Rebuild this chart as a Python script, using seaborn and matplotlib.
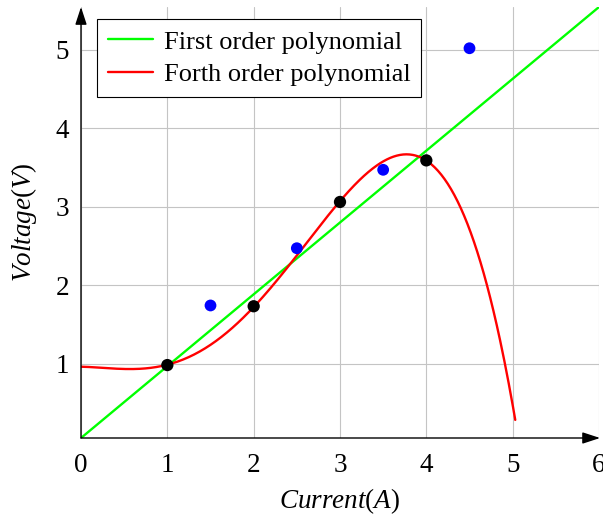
import numpy as np
import pandas as pd
import matplotlib
matplotlib.use("Agg")
import matplotlib.pyplot as plt
import seaborn as sns

# Measured points
meas_x = [1, 2, 3, 4]
meas_y = [0.98, 1.73, 3.06, 3.59]
# Midpoint readings
mid_x = [1.5, 2.5, 3.5, 4.5]
mid_y = [1.74, 2.47, 3.47, 5.02]
# Points along the fourth order curve
quart_x = [0.0, 0.5, 1.0, 2.0, 3.0, 3.75, 4.0, 5.03]
quart_y = [0.96, 0.93, 0.98, 1.73, 3.06, 3.67, 3.59, 0.28]

x_ticks = [0, 1, 2, 3, 4, 5, 6]
y_ticks = [1, 2, 3, 4, 5]

sns.set_style("white")
plt.rcParams["font.family"] = ["Liberation Serif", "DejaVu Serif"]
plt.rcParams["mathtext.fontset"] = "custom"
plt.rcParams["mathtext.rm"] = "Liberation Serif"
plt.rcParams["mathtext.it"] = "Liberation Serif:italic"
plt.rcParams["font.size"] = 19.5
plt.rcParams["text.color"] = "black"
plt.rcParams["axes.labelcolor"] = "black"
plt.rcParams["xtick.labelcolor"] = "black"
plt.rcParams["ytick.labelcolor"] = "black"

fig = plt.figure(figsize=(6.03, 5.18), dpi=100)
ax = fig.add_axes([81 / 603, 1 - 438 / 518, 518 / 603, 431 / 518])

# First order fit of the measured points
lin = np.polyfit(meas_x, meas_y, 1)
xl = np.linspace(0, 6, 50)
lin_df = pd.DataFrame({"x": xl, "y": np.polyval(lin, xl)})

# Fourth order curve
quart = np.polyfit(quart_x, quart_y, 4)
xq = np.linspace(0, 5.03, 400)
quart_df = pd.DataFrame({"x": xq, "y": np.polyval(quart, xq)})

sns.lineplot(data=lin_df, x="x", y="y", ax=ax, color="#00ff00", lw=1.7,
             label="First order polynomial", zorder=3)
sns.lineplot(data=quart_df, x="x", y="y", ax=ax, color="#ff0000", lw=1.7,
             label="Forth order polynomial", zorder=3)
sns.scatterplot(x=mid_x, y=mid_y, ax=ax, color="#0000ff", s=72,
                edgecolor="none", zorder=4)
sns.scatterplot(x=meas_x, y=meas_y, ax=ax, color="black", s=78,
                edgecolor="none", zorder=5)

ax.set_xlim(0, 6)
ax.set_ylim(np.polyval(lin, 0), np.polyval(lin, 6))
ax.set_xticks(x_ticks)
ax.set_yticks(y_ticks)
ax.set_xticklabels([str(t) for t in x_ticks])
ax.set_yticklabels([str(t) for t in y_ticks])
ax.grid(True, color="#c4c4c4", lw=0.8)
ax.set_axisbelow(True)
ax.tick_params(direction="inout", length=7, width=0.7, color="#555555",
               labelsize=19.5, pad=5)
ax.tick_params(axis="x", pad=7)

for s in ax.spines.values():
    s.set_visible(False)
arrow = dict(arrowstyle="-|>,head_length=0.55,head_width=0.18", lw=1.0,
             color="black", shrinkA=0, shrinkB=0)
ax.annotate("", xy=(1.002, 0), xytext=(0, 0), xycoords="axes fraction",
            textcoords="axes fraction", arrowprops=arrow, annotation_clip=False)
ax.annotate("", xy=(0, 1.0), xytext=(0, 0), xycoords="axes fraction",
            textcoords="axes fraction", arrowprops=arrow, annotation_clip=False)

ax.set_xlabel(r"$Current(A)$", fontsize=19.5, labelpad=6)
ax.set_ylabel(r"$Voltage(V)$", fontsize=19.5, labelpad=12)

leg = ax.legend(loc="upper left", bbox_to_anchor=(0.031, 0.972), borderaxespad=0,
                frameon=True, fancybox=False, framealpha=1, edgecolor="black",
                fontsize=19, handlelength=1.7, handletextpad=0.4,
                labelspacing=0.35, borderpad=0.42)
leg.get_frame().set_linewidth(0.8)

fig.savefig("out.png", dpi=100)
